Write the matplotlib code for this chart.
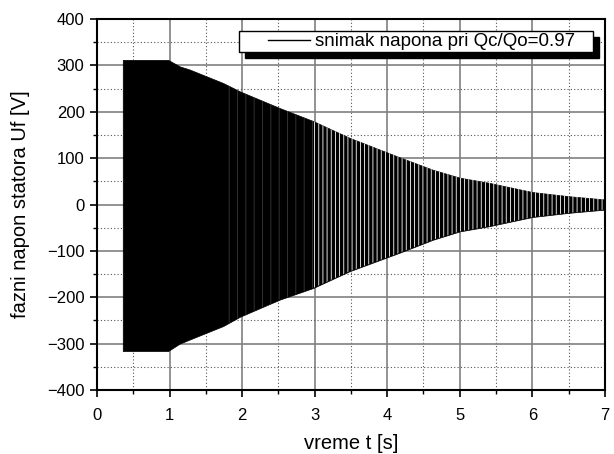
#!/usr/bin/env python

import matplotlib
matplotlib.use('Agg')
import matplotlib.pyplot as plt
from matplotlib.patches import Shadow
from matplotlib.legend_handler import HandlerLine2D
from matplotlib.ticker import MultipleLocator

plt.rcParams['font.family'] = ['Liberation Sans', 'DejaVu Sans']
plt.rcParams['hatch.linewidth'] = 0.6

t_env = [0.355, 0.98, 1.14, 1.28, 1.74, 1.97, 2.52, 2.98, 3.48, 4.17, 4.63, 5.0, 5.4, 6.0, 6.5, 7.0]
u_top = [312, 312, 298, 291, 262, 244, 208, 180, 144, 102, 75, 58, 47, 27, 18, 11]
u_bot = [-316, -316, -300, -291, -262, -242, -205, -180, -144, -104, -76, -58, -47, -27, -18, -11]

label = 'snimak napona pri Qc/Qo=0.97   '

fig = plt.figure(figsize=(6.14, 4.54), dpi=100)
ax = fig.add_axes([0.158, 0.141, 0.827, 0.817])

ax.fill_between(t_env, u_bot, u_top, facecolor='black', edgecolor='black', linewidth=0.5, zorder=2)
# texture of the dense 50 Hz cycles
ax.fill_between(t_env[4:8], u_bot[4:8], u_top[4:8], facecolor='none',
                edgecolor='#3a3a3a', linewidth=0, hatch='||', zorder=2)
ax.fill_between(t_env[7:], u_bot[7:], u_top[7:], facecolor='none',
                edgecolor='white', linewidth=0, hatch='||||', zorder=2)
line, = ax.plot([], [], 'k-', lw=1, label=label)

ax.set_xlim(0, 7)
ax.set_ylim(-400, 400)
ax.xaxis.set_major_locator(MultipleLocator(1))
ax.xaxis.set_minor_locator(MultipleLocator(0.5))
ax.yaxis.set_major_locator(MultipleLocator(100))
ax.yaxis.set_minor_locator(MultipleLocator(50))
ax.set_axisbelow(True)
ax.grid(True, which='major', color='#808080', linestyle='-', linewidth=1.2)
ax.grid(True, which='minor', color='#555555', linestyle=(0, (1, 2)), linewidth=0.8)
ax.tick_params(which='major', direction='out', length=5, width=1.2, labelsize=12, pad=4)
ax.tick_params(which='minor', direction='out', length=3, width=1)
ax.tick_params(axis='x', which='major', pad=8)
for sp in ax.spines.values():
    sp.set_linewidth(1.5)

ax.set_xlabel('vreme t [s]', fontsize=14.5, labelpad=8)
ax.set_ylabel('fazni napon statora Uf [V]', fontsize=14.5, labelpad=12)

leg = ax.legend(handles=[line], loc='upper right', fontsize=13.5, fancybox=False,
                framealpha=1, edgecolor='black', borderpad=0.1, borderaxespad=0.65,
                handlelength=3.68, handletextpad=0.27,
                handler_map={line: HandlerLine2D(xpad=1.44)})
leg.get_frame().set_linewidth(1.0)
sh = Shadow(leg.legendPatch, 4.3, -4.3, facecolor='black', edgecolor='black', alpha=1, zorder=4.9)
ax.add_artist(sh)

fig.canvas.draw()
plt.savefig('out.png', dpi=100)
plt.close(fig)
